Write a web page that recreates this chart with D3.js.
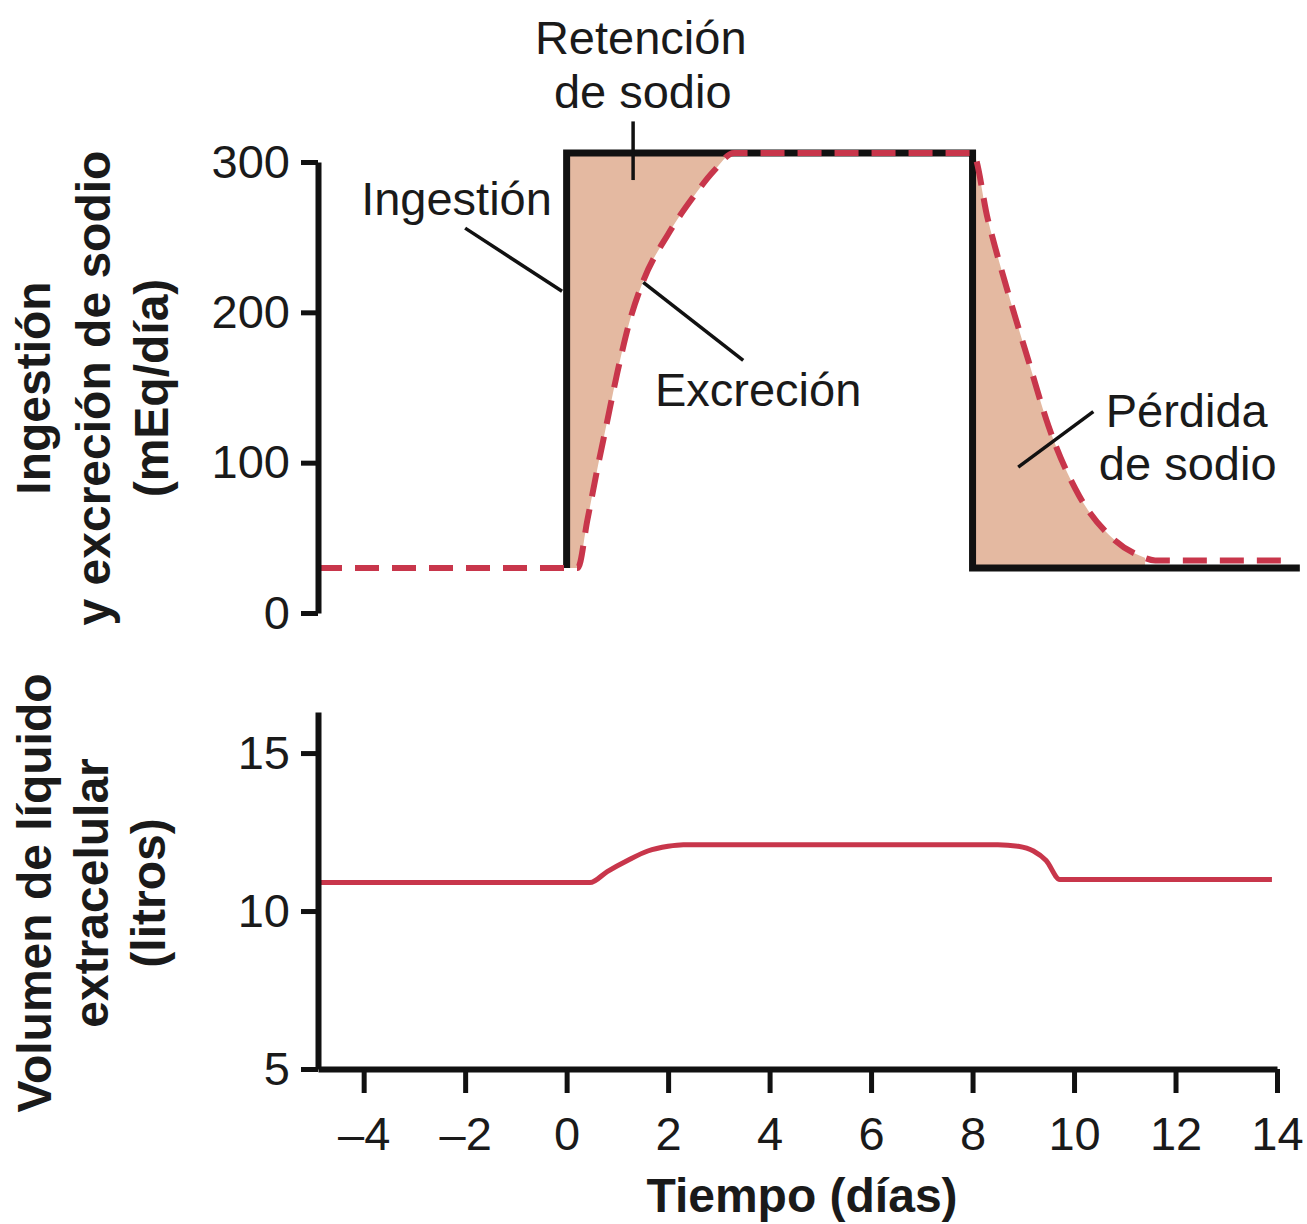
<!DOCTYPE html>
<html>
<head>
<meta charset="utf-8">
<script src="https://cdn.jsdelivr.net/npm/d3@7"></script>
<style>
  html, body { margin: 0; padding: 0; background: #fff; }
  svg { display: block; }
  text { font-family: "Liberation Sans", Arial, Helvetica, sans-serif; fill: #1a1a1a; }
</style>
</head>
<body>
<svg id="chart" width="1307" height="1224"></svg>
<script>
// ---------------- Data ----------------
// Sodium intake (step function), mEq/day
const intakeDays   = [0, 0, 8, 8, 14.45];
const intakeValues = [30, 306, 306, 30, 30];

// Sodium excretion, mEq/day (dashed)
const excretionDays   = [-4.9, 0.22, 0.41, 0.6, 0.79, 1.0, 1.25, 1.5, 2.0, 2.48, 2.9, 3.3, 8.0, 8.3, 8.7, 9.1, 9.5, 10.1, 10.75, 11.3, 11.6, 14.1];
const excretionValues = [30, 30, 62, 95, 126, 160, 195, 220, 252, 276, 294, 306, 306, 262, 213, 168, 124, 78, 50, 38, 35, 35];

// Extracellular fluid volume, litres
const ecfDays   = [-4.9, 0.46, 0.8, 1.2, 1.6, 2.0, 2.3, 8.5, 8.9, 9.2, 9.45, 9.72, 13.9];
const ecfValues = [10.9, 10.9, 11.25, 11.6, 11.9, 12.05, 12.1, 12.1, 12.05, 11.9, 11.6, 11.0, 11.0];

// Axis ticks
const xTicks = [-4, -2, 0, 2, 4, 6, 8, 10, 12, 14];
const sodiumTicks = [0, 100, 200, 300];
const volumeTicks = [5, 10, 15];

// ---------------- Layout ----------------
const svg = d3.select("#chart");
const FONT = 47;
const RED = "#c8364b";
const FILL = "#e4b9a1";

const x = d3.scaleLinear().domain([-4.9, 14]).range([318, 1277]);
const yTop = d3.scaleLinear().domain([0, 300]).range([613, 162]);
const yBot = d3.scaleLinear().domain([5, 16.3]).range([1069, 712]);

const intake = intakeDays.map((d, i) => ({ d, v: intakeValues[i] }));
const excretion = excretionDays.map((d, i) => ({ d, v: excretionValues[i] }));
const ecf = ecfDays.map((d, i) => ({ d, v: ecfValues[i] }));

const defs = svg.append("defs");
defs.append("clipPath").attr("id", "clipRet").append("rect")
  .attr("x", x(0)).attr("y", 0).attr("width", x(8) - x(0)).attr("height", 1224);
defs.append("clipPath").attr("id", "clipLoss").append("rect")
  .attr("x", x(8)).attr("y", 0).attr("width", x(11.4) - x(8)).attr("height", 1224);

// Retention fill: between excretion and intake plateau
svg.append("path")
  .datum(excretion)
  .attr("clip-path", "url(#clipRet)")
  .attr("fill", FILL)
  .attr("d", d3.area().curve(d3.curveMonotoneX)
    .x(p => x(p.d)).y0(p => yTop(p.v)).y1(yTop(intakeValues[1])));

// Loss fill: between excretion and low intake
svg.append("path")
  .datum(excretion)
  .attr("clip-path", "url(#clipLoss)")
  .attr("fill", FILL)
  .attr("d", d3.area().curve(d3.curveMonotoneX)
    .x(p => x(p.d)).y0(yTop(intakeValues[4])).y1(p => yTop(p.v)));

// Intake line (black step)
svg.append("path")
  .datum(intake)
  .attr("fill", "none")
  .attr("stroke", "#111")
  .attr("stroke-width", 7)
  .attr("stroke-linejoin", "miter")
  .attr("d", d3.line().x(p => x(p.d)).y(p => yTop(p.v)));

// Excretion dashed line
svg.append("path")
  .datum(excretion)
  .attr("fill", "none")
  .attr("stroke", RED)
  .attr("stroke-width", 6)
  .attr("stroke-dasharray", "24 13")
  .attr("d", d3.line().curve(d3.curveMonotoneX).x(p => x(p.d)).y(p => yTop(p.v)));

// ECF volume line
svg.append("path")
  .datum(ecf)
  .attr("fill", "none")
  .attr("stroke", RED)
  .attr("stroke-width", 5)
  .attr("d", d3.line().curve(d3.curveMonotoneX).x(p => x(p.d)).y(p => yBot(p.v)));

// ---------------- Axes ----------------
function styleAxis(g) {
  g.select(".domain").attr("stroke", "#111").attr("stroke-width", 6);
  g.selectAll(".tick line").attr("stroke", "#111").attr("stroke-width", 5);
  g.selectAll(".tick text").attr("font-size", FONT).attr("fill", "#1a1a1a")
    .attr("font-family", "Liberation Sans, Arial, Helvetica, sans-serif");
}

svg.append("g").attr("transform", `translate(${x.range()[0]},0)`)
  .call(d3.axisLeft(yTop).tickValues(sodiumTicks).tickSize(17).tickPadding(11).tickSizeOuter(0))
  .call(styleAxis);

svg.append("g").attr("transform", `translate(${x.range()[0]},0)`)
  .call(d3.axisLeft(yBot).tickValues(volumeTicks).tickSize(17).tickPadding(11).tickSizeOuter(0))
  .call(styleAxis);

svg.append("g").attr("transform", `translate(0,${yBot(5)})`)
  .call(d3.axisBottom(x).tickValues(xTicks).tickSize(24).tickPadding(24).tickSizeOuter(0)
    .tickFormat(d => d < 0 ? "\u2013" + Math.abs(d) : String(d)))
  .call(styleAxis);

// ---------------- Titles ----------------
function vTitle(lines, baselines, cy) {
  lines.forEach((t, i) => {
    svg.append("text")
      .attr("transform", `translate(${baselines[i]},${cy}) rotate(-90)`)
      .attr("text-anchor", "middle")
      .attr("font-size", 48)
      .attr("font-weight", "bold")
      .text(t);
  });
}
vTitle(["Ingestión", "y excreción de sodio", "(mEq/día)"], [50, 110, 168], 388);
vTitle(["Volumen de líquido", "extracelular", "(litros)"], [51, 108, 165], 893);

svg.append("text")
  .attr("x", 802).attr("y", 1212)
  .attr("text-anchor", "middle")
  .attr("font-size", 48).attr("font-weight", "bold")
  .text("Tiempo (días)");

// ---------------- Annotations (data space) ----------------
const labels = [
  { t: "Retención", d: 1.46, v: 372, anchor: "middle" },
  { t: "de sodio",  d: 1.50, v: 336, anchor: "middle" },
  { t: "Ingestión", d: -0.29, v: 265, anchor: "end" },
  { t: "Excreción", d: 1.74, v: 138, anchor: "start" },
  { t: "Pérdida",   d: 12.22, v: 124, anchor: "middle" },
  { t: "de sodio",  d: 12.24, v: 88.5, anchor: "middle" }
];
labels.forEach(l => {
  svg.append("text")
    .attr("x", x(l.d)).attr("y", yTop(l.v))
    .attr("text-anchor", l.anchor)
    .attr("font-size", FONT)
    .text(l.t);
});

const leaders = [
  [[1.31, 327], [1.31, 288]],
  [[-2.0, 256], [-0.09, 214]],
  [[1.51, 220], [3.48, 168]],
  [[8.9, 97], [10.38, 134]]
];
leaders.forEach(seg => {
  svg.append("line")
    .attr("x1", x(seg[0][0])).attr("y1", yTop(seg[0][1]))
    .attr("x2", x(seg[1][0])).attr("y2", yTop(seg[1][1]))
    .attr("stroke", "#111").attr("stroke-width", 3.5);
});
</script>
</body>
</html>
